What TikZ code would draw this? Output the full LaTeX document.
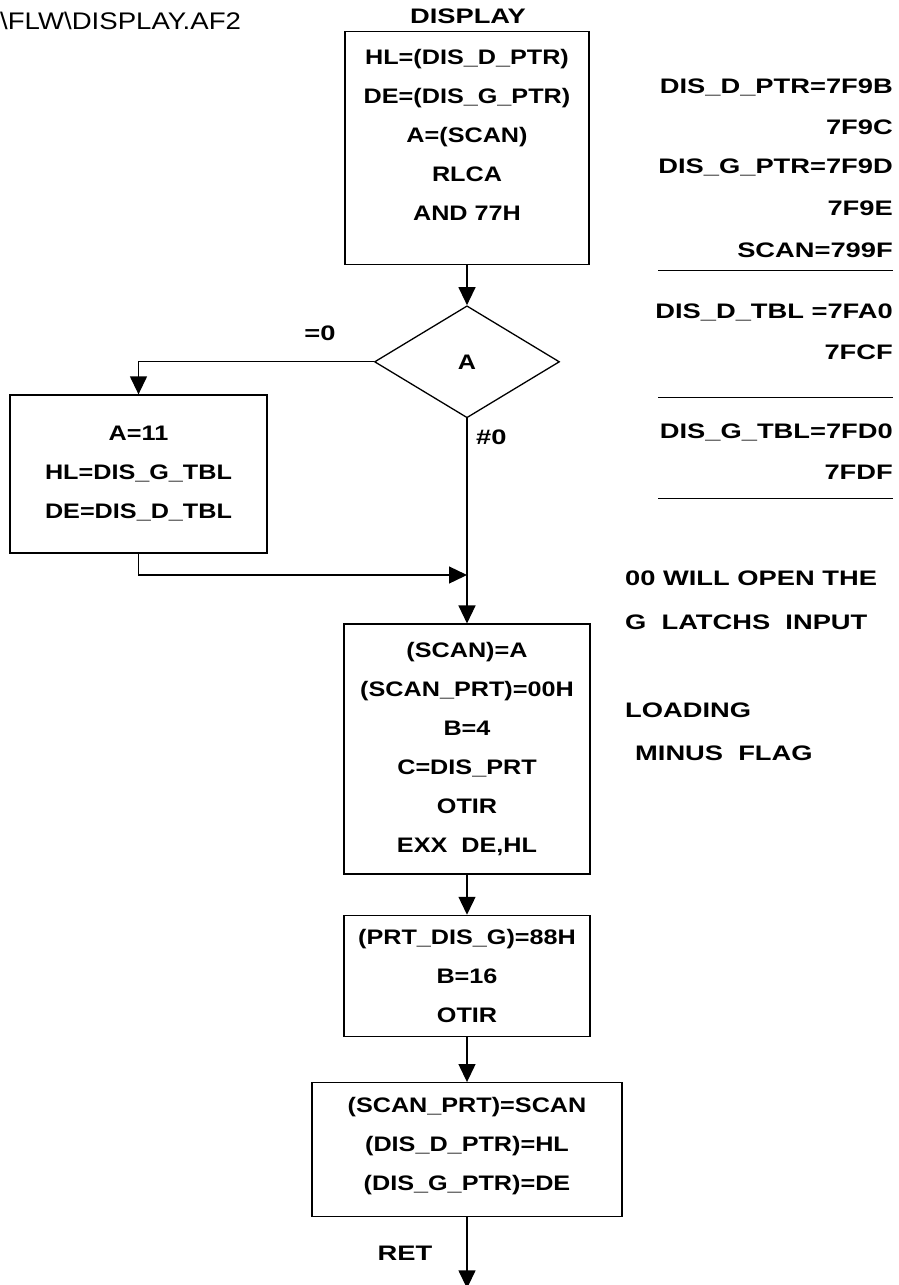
\documentclass[tikz,border=0pt]{standalone}
\usepackage{fontspec}
\newfontfamily\flowfont{Liberation Sans}[FakeStretch=1.2]
\newfontfamily\notefont{Liberation Sans}[FakeStretch=1.3]
\newfontfamily\headfont{Liberation Sans}[FakeStretch=1.15]
\usetikzlibrary{shapes.geometric, positioning, arrows.meta}
\tikzset{
  process/.style={rectangle, draw=black, line width=1.3pt, align=center, inner sep=0pt, font=\flowfont\bfseries\fontsize{21}{39}\selectfont},
  decision/.style={diamond, aspect=1.65, minimum width=185pt, minimum height=112pt, inner sep=0pt, draw=black, line width=1.3pt, font=\flowfont\bfseries\fontsize{21}{39}\selectfont},
  note/.style={inner sep=0pt, font=\notefont\bfseries\fontsize{21}{25}\selectfont},
  arrow/.style={line width=1.3pt, -{Triangle[length=18pt, width=17pt]}},
  rule/.style={line width=1pt}
}

\begin{document}
\begin{tikzpicture}[x=1pt, y=-1pt]
        \useasboundingbox (0,0) rectangle (898,1285);

        % header
        \node (file) [note, anchor=west, font=\headfont\fontsize{24}{28}\selectfont] at (0,21) {\textbackslash FLW\textbackslash DISPLAY.AF2};
        \node (title) [note] at (468,16) {DISPLAY};

        % flow
        \node (disp) [process, minimum width=244pt, minimum height=233pt, text depth=26pt] at (467,148) {HL=(DIS\_D\_PTR)\\DE=(DIS\_G\_PTR)\\A=(SCAN)\\RLCA\\AND 77H};
        \node (test) [decision, below=40pt of disp] {A};
        \node (zero) [process, minimum width=257pt, minimum height=158pt] at (138.5,474) {A=11\\HL=DIS\_G\_TBL\\DE=DIS\_D\_TBL};
        \node (scan) [process, below=205pt of test, minimum width=246pt, minimum height=250pt] {(SCAN)=A\\(SCAN\_PRT)=00H\\B=4\\C=DIS\_PRT\\OTIR\\EXX\ \ DE,HL};
        \node (prtg) [process, below=40pt of scan, minimum width=246pt, minimum height=121pt] {(PRT\_DIS\_G)=88H\\B=16\\OTIR};
        \node (ret) [process, below=45pt of prtg, minimum width=310pt, minimum height=134pt, text depth=12pt] {(SCAN\_PRT)=SCAN\\(DIS\_D\_PTR)=HL\\(DIS\_G\_PTR)=DE};
        \coordinate (join) at (467,575);
        \coordinate [below=71pt of ret] (exit);

        \node (eqz) [note] at (320,333) {=0};
        \node (nez) [note, anchor=west] at (476,437) {\#0};
        \node (retl) [note] at (405,1253) {RET};

        \draw [arrow] (disp) -- (test);
        \draw [arrow] (test.west) -| (zero.north);
        \draw [arrow] (zero.south) |- (join);
        \draw [arrow] (test) -- (scan);
        \draw [arrow] (scan) -- (prtg);
        \draw [arrow] (prtg) -- (ret);
        \draw [arrow] (ret) -- (exit);

        % memory map
        \node (dptr) [note, anchor=east] at (893,87) {DIS\_D\_PTR=7F9B};
        \node (dptrb) [note, anchor=east] at (893,127) {7F9C};
        \node (gptr) [note, anchor=east] at (893,167) {DIS\_G\_PTR=7F9D};
        \node (gptrb) [note, anchor=east] at (893,208) {7F9E};
        \node (scanv) [note, anchor=east] at (893,250) {SCAN=799F};
        \draw [rule] (658,270) -- (893,270);
        \node (dtbl) [note, anchor=east] at (893,312) {DIS\_D\_TBL =7FA0};
        \node (dtble) [note, anchor=east] at (893,352) {7FCF};
        \draw [rule] (658,397) -- (893,397);
        \node (gtbl) [note, anchor=east] at (893,432) {DIS\_G\_TBL=7FD0};
        \node (gtble) [note, anchor=east] at (893,472) {7FDF};
        \draw [rule] (658,498) -- (893,498);

        % remarks
        \node (open) [note, anchor=west] at (625,578) {00 WILL OPEN THE};
        \node (latch) [note, anchor=west] at (625,622) {G\ \ LATCHS\ \ INPUT};
        \node (load) [note, anchor=west] at (625,710) {LOADING};
        \node (minus) [note, anchor=west] at (635,753) {MINUS\ \ FLAG};
    \end{tikzpicture}
\end{document}
